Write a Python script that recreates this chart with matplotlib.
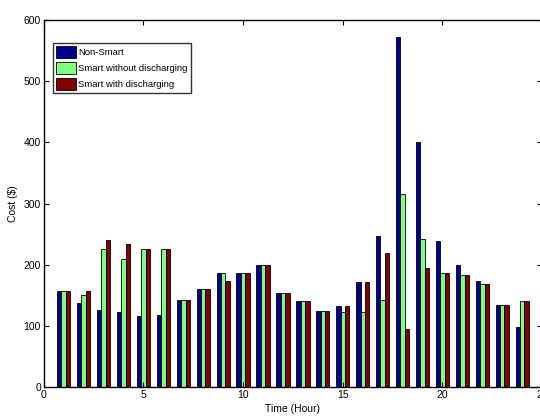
import matplotlib
matplotlib.use("Agg")
import matplotlib.pyplot as plt
import numpy as np

plt.rcParams['font.family'] = ['Liberation Sans', 'DejaVu Sans']

hours = list(range(1, 25))
non_smart = [157, 138, 126, 122, 116, 118, 143, 161, 187, 187, 200, 154,
             141, 124, 132, 171, 247, 572, 400, 239, 200, 173, 134, 98]
smart_no_dis = [157, 151, 225, 210, 226, 225, 143, 161, 187, 187, 200, 154,
                141, 124, 123, 122, 143, 315, 242, 187, 183, 168, 134, 140]
smart_dis = [157, 157, 240, 234, 226, 225, 143, 161, 173, 187, 200, 154,
             141, 124, 132, 172, 219, 95, 195, 187, 183, 168, 134, 140]
series_names = ["Non-Smart", "Smart without discharging", "Smart with discharging"]
colors = ["#00008F", "#80FF80", "#800000"]

fig = plt.figure(figsize=(5.4, 4.18), dpi=100)
ax = fig.add_axes([0.081, 0.074, 0.923, 0.878])

x = np.array(hours, dtype=float)
w = 0.222
for i, (vals, name, c) in enumerate(zip([non_smart, smart_no_dis, smart_dis], series_names, colors)):
    ax.bar(x + (i - 1) * w, vals, width=w, color=c, edgecolor='black', linewidth=0.6, label=name)

ax.set_xlim(0, 25)
ax.set_ylim(0, 600)
ax.set_xticks([0, 5, 10, 15, 20, 25])
ax.set_yticks(range(0, 601, 100))
ax.tick_params(direction='in', length=3.5, width=0.8, labelsize=7.5, top=True, right=True, pad=2)
for s in ax.spines.values():
    s.set_linewidth(1.0)
ax.set_xlabel("Time (Hour)", fontsize=7.5, labelpad=3)
ax.set_ylabel("Cost ($)", fontsize=7.5, labelpad=4)

leg = ax.legend(loc='upper left', bbox_to_anchor=(0.018, 0.937), fontsize=6.8, frameon=True,
                fancybox=False, edgecolor='black', handlelength=2.1, handleheight=1.5,
                handletextpad=0.25, borderpad=0.35, labelspacing=0.45, borderaxespad=0)
leg.get_frame().set_linewidth(1.0)

fig.savefig("out.png", dpi=100)
